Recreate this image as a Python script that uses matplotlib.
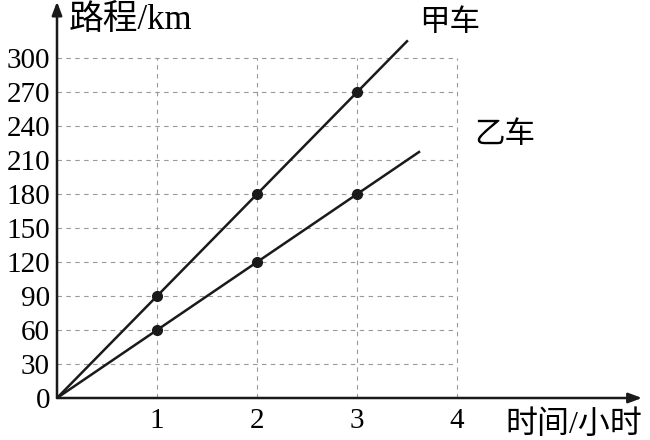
import matplotlib.pyplot as plt

plt.rcParams['font.family'] = ['Liberation Serif', 'Noto Sans CJK SC']

hours = [0, 1, 2, 3]
jia_km = [0, 90, 180, 270]
yi_km = [0, 60, 120, 180]
jia_end = 3.5
yi_end = 3.62
y_ticks = list(range(0, 301, 30))
x_ticks = [1, 2, 3, 4]

fig = plt.figure(figsize=(6.5, 4.4), dpi=100)
ax = fig.add_axes([57 / 650, 42 / 440, 583 / 650, 393 / 440])
ax.set_xlim(0, 5.83)
ax.set_ylim(0, 347)
for s in ax.spines.values():
    s.set_visible(False)

# dashed grid only inside the 0..4 x 0..300 box
grid_kw = dict(colors='#999999', linestyles=(0, (4, 4)), linewidth=0.8)
ax.hlines(y_ticks[1:], 0, x_ticks[-1], **grid_kw)
ax.vlines(x_ticks, 0, y_ticks[-1], **grid_kw)

# axes with arrows
arrow = dict(arrowstyle='-|>,head_length=0.8,head_width=0.3', color='#1a1a1a', lw=1.8, shrinkA=0, shrinkB=0)
ax.annotate('', xy=(5.85, 0), xytext=(0, 0), arrowprops=arrow, annotation_clip=False)
ax.annotate('', xy=(0, 350), xytext=(0, 0), arrowprops=arrow, annotation_clip=False)

# lines extended past the last point
ax.plot(hours + [jia_end], jia_km + [90 * jia_end], color='#1a1a1a', lw=1.8)
ax.plot(hours + [yi_end], yi_km + [60 * yi_end], color='#1a1a1a', lw=1.8)
ax.plot(hours[1:], jia_km[1:], 'o', color='#1a1a1a', ms=7)
ax.plot(hours[1:], yi_km[1:], 'o', color='#1a1a1a', ms=7)

ax.set_yticks(y_ticks)
ax.set_yticklabels([str(v) for v in y_ticks], fontsize=21)
ax.set_xticks(x_ticks)
ax.set_xticklabels([str(v) for v in x_ticks], fontsize=21)
ax.tick_params(length=0, pad=5)
ax.tick_params(axis='x', pad=7)

ax.text(0.12, 333, '路程/km', fontsize=25, va='center', ha='left')
ax.text(5.85, -24, '时间/小时', fontsize=23, va='center', ha='right')
ax.text(3.62, 331, '甲车', fontsize=22, va='center', ha='left')
ax.text(4.17, 232, '乙车', fontsize=22, va='center', ha='left')

fig.savefig('out.png', dpi=100)
